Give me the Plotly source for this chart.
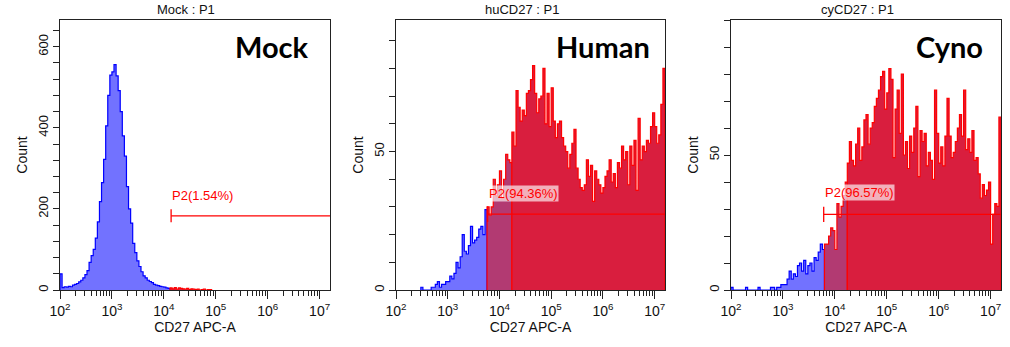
import math
import plotly.graph_objects as go

W, H = 1010, 347
BIN_W = 0.04  # width of one histogram bin, in decades

# ---------------- data (counts per log bin) ----------------
x_tick_vals = [1e2, 1e3, 1e4, 1e5, 1e6, 1e7]
x_tick_text = ["10<sup>2</sup>", "10<sup>3</sup>", "10<sup>4</sup>",
               "10<sup>5</sup>", "10<sup>6</sup>", "10<sup>7</sup>"]
x_minor_vals = [m * d for d in [1e2, 1e3, 1e4, 1e5, 1e6, 1e7] for m in range(2, 10)]

panel_titles = ["Mock : P1", "huCD27 : P1", "cyCD27 : P1"]
panel_labels = ["Mock", "Human", "Cyno"]
gate_labels = ["P2(1.54%)", "P2(94.36%)", "P2(96.57%)"]

mock_start_log = 2.0
mock_counts = [40, 6, 8, 7, 9, 8, 12, 14, 16, 20,
               24, 30, 38, 48, 68, 85, 100, 128, 168, 218,
               265, 322, 405, 480, 530, 538, 556, 528, 492, 440,
               380, 330, 255, 200, 165, 115, 92, 72, 58, 45,
               35, 30, 24, 21, 18, 14, 12, 11, 9, 8,
               7, 5, 4, 5, 3, 6, 2, 5, 4, 3,
               2, 4, 1, 3, 2, 1, 2, 0, 1, 2,
               0, 1, 1]
mock_gate_bin = 53          # first bin inside P2
mock_solid_bin = 53         # first bin drawn in solid crimson
mock_gate_x = 1.38e4
mock_gate_y = 183
mock_label_y = 232

human_start_log = 2.48
human_counts = [1, 0, 0, 0, 0, 1, 1, 2, 3, 1,
                2, 2, 3, 3, 5, 4, 6, 10, 8, 12,
                20, 14, 13, 16, 23, 17, 18, 19, 22, 23,
                20, 29,
                30, 27, 30, 40, 34, 38, 43, 33, 40, 49,
                47, 46,
                57, 52, 72, 66, 61, 65, 63, 71, 72, 76,
                81, 71, 64, 69, 70, 80, 60, 71, 59, 73,
                61, 55, 60, 61, 55, 52, 50, 44, 49, 53,
                58, 44, 40, 37, 36, 38, 47, 41, 45, 32,
                43, 40, 38, 35, 37, 41, 43, 47, 39, 42,
                37, 46, 44, 52, 47, 50, 38, 52, 45, 54,
                36, 62, 47, 52, 50, 54, 53, 59, 64, 59,
                53, 56, 67, 80]
human_gate_bin = 32
human_solid_bin = 44
human_gate_x = 5.9e3
human_gate_y = 27.4
human_label_y = 35

cyno_start_log = 2.0
cyno_counts = [1, 0, 0, 0, 0, 0, 0, 1, 0, 0,
               0, 0, 0, 1, 0, 0, 0, 0, 0, 1,
               1, 0, 1, 1, 2, 2, 2, 4, 7, 4,
               6, 5, 9, 10, 7, 11, 6, 9, 10, 7,
               12, 11, 14, 17, 15,
               17, 17, 20, 23, 22, 15, 32, 27, 31, 35, 40,
               47, 55, 48, 46, 54, 60, 48, 53, 63, 65,
               54, 60, 62, 68, 71, 74, 79, 81, 67, 73,
               82, 78, 49, 67, 74, 58, 80, 50, 55, 45,
               57, 51, 60, 68, 42, 59, 55, 58, 46, 51,
               48, 41, 74, 58, 47, 53, 46, 57, 71, 57,
               49, 51, 55, 60, 65, 57, 74, 52, 56, 51,
               59, 48, 49, 43, 34, 39, 35, 37, 40, 17,
               28, 32, 31, 64]
cyno_gate_bin = 45
cyno_solid_bin = 56
cyno_gate_x = 6.1e3
cyno_gate_y = 28
cyno_label_y = 36

# ---------------- layout geometry ----------------
x_domains = [(60, 330), (396, 665), (731, 1001)]
y_px = (20, 290)
y_ranges = [666, 97.5, 100]
y_major = [[0, 200, 400, 600], [0, 50], [0, 50]]
y_minor_dtick = [40, 10, 10]
gate_tick_half = [16, 2.8, 2.8]
title_px = [186, 522, 857]
big_px = [272, 603, 949]

BLUE_FILL = "#7272FF"
BLUE_LINE = "#0000FF"
PURPLE_FILL = "#B23A72"
CRIMSON_FILL = "#D91E3E"
RED_LINE = "#FF0000"
TXT = "Arial, Liberation Sans"

panels = [
    (mock_start_log, mock_counts, mock_gate_bin, mock_solid_bin, mock_gate_x, mock_gate_y, mock_label_y),
    (human_start_log, human_counts, human_gate_bin, human_solid_bin, human_gate_x, human_gate_y, human_label_y),
    (cyno_start_log, cyno_counts, cyno_gate_bin, cyno_solid_bin, cyno_gate_x, cyno_gate_y, cyno_label_y),
]


def segment(start, counts, i0, i1):
    edges = [10 ** (start + i * BIN_W) for i in range(i0, i1 + 1)]
    xs = [edges[0]] + edges[:-1] + [edges[-1]]
    ys = [0] + list(counts[i0:i1]) + [0]
    return xs, ys


fig = go.Figure()
annotations = []
layout_axes = {}
XMAX_LOG = 7.2

for k, (start, counts, gbin, sbin, gx, gy, ly) in enumerate(panels):
    n = k + 1
    xa = "x" if n == 1 else f"x{n}"
    ya = "y" if n == 1 else f"y{n}"
    pieces = [(0, gbin, BLUE_FILL, BLUE_LINE),
              (gbin, sbin, PURPLE_FILL, RED_LINE),
              (sbin, len(counts), CRIMSON_FILL, RED_LINE)]
    for i0, i1, fc, lc in pieces:
        if i1 <= i0:
            continue
        xs, ys = segment(start, counts, i0, i1)
        fig.add_trace(go.Scatter(x=xs, y=ys, mode="lines", line=dict(color=lc, width=1.2, shape="hv"),
                                 fill="tozeroy", fillcolor=fc, xaxis=xa, yaxis=ya,
                                 hoverinfo="skip", showlegend=False))
    # gate bar
    fig.add_trace(go.Scatter(x=[gx, 10 ** XMAX_LOG], y=[gy, gy], mode="lines",
                             line=dict(color=RED_LINE, width=1.3), xaxis=xa, yaxis=ya,
                             hoverinfo="skip", showlegend=False))
    fig.add_trace(go.Scatter(x=[gx, gx], y=[gy - gate_tick_half[k], gy + gate_tick_half[k]], mode="lines",
                             line=dict(color=RED_LINE, width=1.3), xaxis=xa, yaxis=ya,
                             hoverinfo="skip", showlegend=False))
    annotations.append(dict(x=math.log10(gx), y=ly, xref=xa, yref=ya, text=gate_labels[k],
                            showarrow=False, xanchor="left", yanchor="middle",
                            font=dict(family=TXT, size=13, color=RED_LINE),
                            bgcolor="rgba(255,255,255,0.65)" if k > 0 else None, borderpad=0))
    # titles
    annotations.append(dict(x=title_px[k] / W, y=1 - 9 / H, xref="paper", yref="paper",
                            text=panel_titles[k], showarrow=False, xanchor="center", yanchor="middle",
                            font=dict(family=TXT, size=13, color="#111")))
    annotations.append(dict(x=big_px[k] / W, y=1 - 46 / H, xref="paper", yref="paper",
                            text="<b>" + panel_labels[k] + "</b>", showarrow=False,
                            xanchor="center", yanchor="middle",
                            font=dict(family="Lato, Open Sans", size=29, color="#000")))

    x0, x1 = x_domains[k]
    layout_axes["xaxis" if n == 1 else f"xaxis{n}"] = dict(
        domain=[x0 / W, x1 / W], anchor=ya, type="log", range=[2, XMAX_LOG],
        tickmode="array", tickvals=x_tick_vals, ticktext=x_tick_text,
        ticks="outside", ticklen=8, tickcolor="#222", showline=True, linecolor="#222",
        mirror=True, showgrid=False, zeroline=False, automargin=False,
        tickfont=dict(family=TXT, size=14, color="#111"),
        minor=dict(tickmode="array", tickvals=x_minor_vals, ticks="outside", ticklen=5,
                   tickcolor="#222", showgrid=False),
        title=dict(text="CD27 APC-A", standoff=1,
                   font=dict(family=TXT, size=14, color="#111")),
    )
    layout_axes["yaxis" if n == 1 else f"yaxis{n}"] = dict(
        domain=[1 - y_px[1] / H, 1 - y_px[0] / H], anchor=xa, range=[0, y_ranges[k]],
        tickmode="array", tickvals=y_major[k], tickangle=-90,
        ticks="outside", ticklen=6, tickcolor="#222", showline=True, linecolor="#222",
        mirror=True, showgrid=False, zeroline=False, automargin=False,
        tickfont=dict(family=TXT, size=13, color="#111"),
        minor=dict(dtick=y_minor_dtick[k], ticks="outside", ticklen=6, tickcolor="#222", showgrid=False),
        title=dict(text="Count", standoff=4,
                   font=dict(family=TXT, size=14, color="#111")),
    )

fig.update_layout(
    width=W, height=H, margin=dict(l=0, r=0, t=0, b=0),
    paper_bgcolor="white", plot_bgcolor="white", showlegend=False,
    annotations=annotations, font=dict(family=TXT),
    **layout_axes,
)

fig.write_html("out.html")
